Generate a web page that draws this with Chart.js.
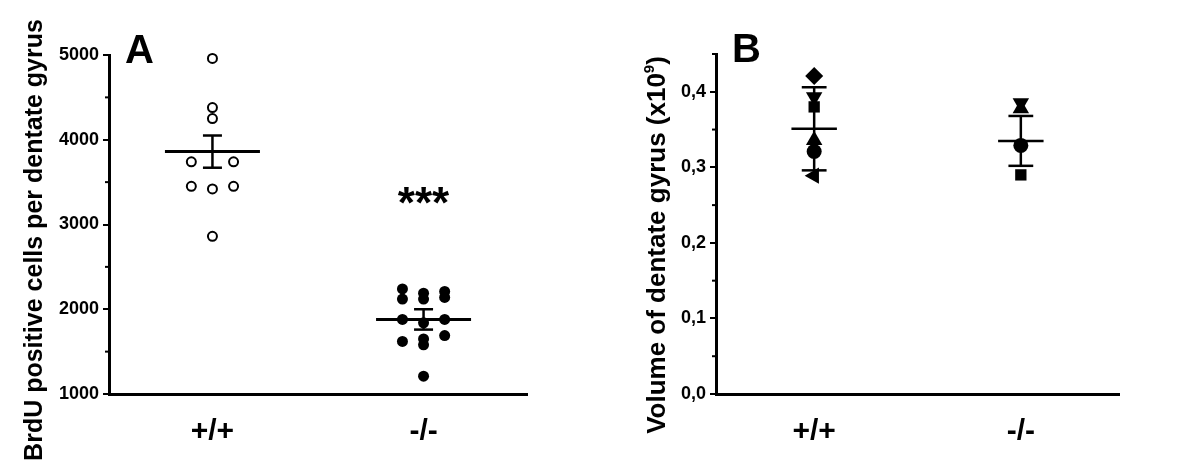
<!DOCTYPE html>
<html>
<head>
<meta charset="utf-8">
<title>BrdU cells and dentate gyrus volume</title>
<script src="https://cdn.jsdelivr.net/npm/chart.js@4.4.1/dist/chart.umd.min.js"></script>
<style>
    html, body { margin: 0; padding: 0; background: #fff; }
    #wrap { position: relative; width: 1200px; height: 472px; }
    canvas { position: absolute; top: 0; }
    #chartA { left: 0; }
    #chartB { left: 600px; }
</style>
</head>
<body>
<div id="wrap">
    <canvas id="chartA" width="600" height="472"></canvas>
    <canvas id="chartB" width="600" height="472"></canvas>
</div>
<script>
// genotypes on the x axis
const groups = ['+/+', '-/-'];

// A: BrdU positive cells per dentate gyrus, one value per animal
const brduWT = [4960, 4380, 4250, 3740, 3740, 3450, 3420, 3450, 2860];
const brduWTCol = [0, 0, 0, -1, 1, -1, 0, 1, 0];
const brduKO = [2240, 2120, 1880, 1620, 2190, 2120, 1840, 1650, 1580, 1210, 2210, 2140, 1880, 1690];
const brduKOCol = [-1, -1, -1, -1, 0, 0, 0, 0, 0, 0, 1, 1, 1, 1];
const brduMean = [3860, 1880];
const brduSem = [190, 120];
const brduTicks = [1000, 2000, 3000, 4000, 5000];

// B: volume of dentate gyrus (x10^9)
const volWT = [0.421, 0.393, 0.380, 0.336, 0.321, 0.289];
const volKO = [0.385, 0.378, 0.329, 0.290];
const volMean = [0.351, 0.335];
const volErr = [0.055, 0.033];
const volTicks = [0, 0.1, 0.2, 0.3, 0.4];
const volTickLabels = ['0,0', '0,1', '0,2', '0,3', '0,4'];

// marker shapes used in B
const wtMarkers = ['rectRot', 'triangle', 'rect', 'triangle', 'circle', 'triangle'];
const wtRotation = [0, 180, 0, 0, 0, -90];
const koMarkers = ['triangle', 'triangle', 'circle', 'rect'];
const koRotation = [180, 0, 0, 0];
const markerSize = { rectRot: 9, triangle: 9.5, rect: 8, circle: 7.5 };

const FONT = '"Liberation Sans", Arial, sans-serif';

function boldFont(size) {
    return { family: FONT, size: size, weight: 'bold' };
}

function line(ctx, x1, y1, x2, y2) {
    ctx.beginPath();
    ctx.moveTo(x1, y1);
    ctx.lineTo(x2, y2);
    ctx.stroke();
}

// mean / error bars, minor ticks and the loose text of each panel
const decor = {
    id: 'decor',
    afterDatasetsDraw(chart, args, opts) {
        const ctx = chart.ctx;
        const xs = chart.scales.x;
        const ys = chart.scales.y;
        const unit = xs.getPixelForValue(2) - xs.getPixelForValue(1);
        ctx.save();
        ctx.strokeStyle = '#000';
        ctx.fillStyle = '#000';

        opts.mean.forEach(function(m, i) {
            const cx = xs.getPixelForValue(i + 1);
            const ym = ys.getPixelForValue(m);
            const yt = ys.getPixelForValue(m + opts.err[i]);
            const yb = ys.getPixelForValue(m - opts.err[i]);
            const hw = opts.meanHalf * unit;
            const cw = opts.capHalf * unit;
            ctx.lineWidth = opts.meanWidth;
            line(ctx, cx - hw, ym, cx + hw, ym);
            ctx.lineWidth = opts.barWidth;
            line(ctx, cx, yt, cx, yb);
            line(ctx, cx - cw, yt, cx + cw, yt);
            line(ctx, cx - cw, yb, cx + cw, yb);
        });

        // minor ticks half way between the labelled ones
        const step = opts.ticks[1] - opts.ticks[0];
        ctx.lineWidth = 2;
        opts.ticks.forEach(function(t) {
            const v = t + step / 2;
            if (v > ys.max + step * 1e-6) return;
            const y = ys.getPixelForValue(v);
            line(ctx, xs.left - 4, y, xs.left, y);
        });

        // y axis title, rotated
        ctx.save();
        ctx.translate(opts.title.x, opts.title.y);
        ctx.rotate(-Math.PI / 2);
        ctx.textBaseline = 'alphabetic';
        ctx.font = 'bold ' + opts.title.size + 'px ' + FONT;
        const main = opts.title.text;
        const sup = opts.title.sup || '';
        const tail = opts.title.tail || '';
        const wMain = ctx.measureText(main).width;
        const wTail = ctx.measureText(tail).width;
        ctx.font = 'bold 15px ' + FONT;
        const wSup = ctx.measureText(sup).width;
        let x0 = -(wMain + wSup + wTail) / 2;
        ctx.textAlign = 'left';
        ctx.font = 'bold ' + opts.title.size + 'px ' + FONT;
        ctx.fillText(main, x0, 0);
        if (sup) {
            ctx.font = 'bold 15px ' + FONT;
            ctx.fillText(sup, x0 + wMain, -11);
            ctx.font = 'bold ' + opts.title.size + 'px ' + FONT;
            ctx.fillText(tail, x0 + wMain + wSup, 0);
        }
        ctx.restore();

        // panel letter
        ctx.font = 'bold 40px ' + FONT;
        ctx.textAlign = 'left';
        ctx.textBaseline = 'alphabetic';
        ctx.fillText(opts.letter.text, opts.letter.x, opts.letter.y);

        // significance stars
        if (opts.stars) {
            ctx.font = 'bold 44px ' + FONT;
            ctx.textAlign = 'center';
            ctx.fillText(opts.stars.text, xs.getPixelForValue(opts.stars.x), ys.getPixelForValue(opts.stars.y));
        }
        ctx.restore();
    }
};

function axisX(min, max) {
    return {
        type: 'linear',
        min: min,
        max: max,
        afterBuildTicks: function(s) { s.ticks = groups.map(function(g, i) { return { value: i + 1 }; }); },
        afterFit: function(s) { s.height = 78; },
        ticks: { callback: function(v, i) { return groups[i]; }, font: boldFont(30), color: '#000', padding: 20 },
        grid: { display: false, drawTicks: false },
        border: { color: '#000', width: 3 }
    };
}

function axisY(min, max, ticks, labels, width) {
    return {
        min: min,
        max: max,
        afterBuildTicks: function(s) { s.ticks = ticks.map(function(v) { return { value: v }; }); },
        afterFit: function(s) { s.width = width; },
        ticks: { callback: function(v, i) { return labels[i]; }, font: boldFont(18), color: '#000', padding: 4 },
        grid: { drawOnChartArea: false, drawTicks: true, tickLength: 6, color: '#000', lineWidth: 2 },
        border: { color: '#000', width: 3 }
    };
}

new Chart(document.getElementById('chartA'), {
    type: 'scatter',
    data: {
        datasets: [{
            data: brduWT.map(function(v, i) { return { x: 1 + brduWTCol[i] * 0.1, y: v }; }),
            clip: false,
            pointRadius: 4.5,
            pointBorderWidth: 2,
            pointBackgroundColor: '#fff',
            pointBorderColor: '#000'
        }, {
            data: brduKO.map(function(v, i) { return { x: 2 + brduKOCol[i] * 0.1, y: v }; }),
            clip: false,
            pointRadius: 5.5,
            pointBorderWidth: 0,
            pointBackgroundColor: '#000',
            pointBorderColor: '#000'
        }]
    },
    options: {
        responsive: false,
        animation: false,
        layout: { padding: { top: 55, right: 73, left: 0, bottom: 0 } },
        plugins: {
            legend: { display: false },
            tooltip: { enabled: false },
            decor: {
                mean: brduMean, err: brduSem, ticks: brduTicks,
                meanHalf: 0.225, capHalf: 0.045, meanWidth: 3, barWidth: 2.5,
                title: { text: 'BrdU positive cells per dentate gyrus', size: 25, x: 42, y: 240 },
                letter: { text: 'A', x: 125, y: 63 },
                stars: { text: '***', x: 2, y: 3080 }
            }
        },
        scales: {
            x: axisX(0.51, 2.49),
            y: axisY(1000, 5000, brduTicks, brduTicks.map(String), 109)
        }
    },
    plugins: [decor]
});

function volPoints(values, pos) {
    return values.map(function(v) { return { x: pos, y: v }; });
}

new Chart(document.getElementById('chartB'), {
    type: 'scatter',
    data: {
        datasets: [{
            data: volPoints(volWT, 1),
            clip: false,
            pointStyle: wtMarkers,
            rotation: wtRotation,
            pointRadius: wtMarkers.map(function(m) { return markerSize[m]; }),
            pointBorderWidth: 0,
            pointBackgroundColor: '#000',
            pointBorderColor: '#000'
        }, {
            data: volPoints(volKO, 2),
            clip: false,
            pointStyle: koMarkers,
            rotation: koRotation,
            pointRadius: koMarkers.map(function(m) { return markerSize[m]; }),
            pointBorderWidth: 0,
            pointBackgroundColor: '#000',
            pointBorderColor: '#000'
        }]
    },
    options: {
        responsive: false,
        animation: false,
        layout: { padding: { top: 54, right: 81, left: 0, bottom: 0 } },
        plugins: {
            legend: { display: false },
            tooltip: { enabled: false },
            decor: {
                mean: volMean, err: volErr, ticks: volTicks,
                meanHalf: 0.11, capHalf: 0.06, meanWidth: 2.5, barWidth: 2.5,
                title: { text: 'Volume of dentate gyrus (x10', sup: '9', tail: ')', size: 26, x: 65, y: 245 },
                letter: { text: 'B', x: 132, y: 62 }
            }
        },
        scales: {
            x: axisX(0.525, 2.475),
            y: axisY(0, 0.45, volTicks, volTickLabels, 116)
        }
    },
    plugins: [decor]
});
</script>
</body>
</html>
